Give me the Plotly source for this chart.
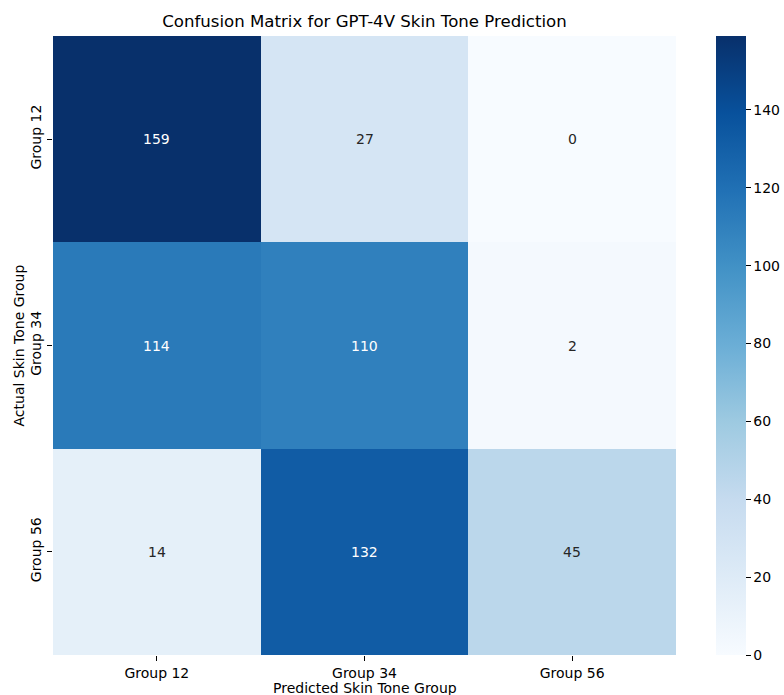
import plotly.graph_objects as go

predicted = ["Group 12", "Group 34", "Group 56"]
actual = ["Group 12", "Group 34", "Group 56"]
counts = [
    [159, 27, 0],
    [114, 110, 2],
    [14, 132, 45],
]
cbar_ticks = [0, 20, 40, 60, 80, 100, 120, 140]

blues = [
    [0.0, "#f7fbff"], [0.125, "#deebf7"], [0.25, "#c6dbef"], [0.375, "#9ecae1"],
    [0.5, "#6baed6"], [0.625, "#4292c6"], [0.75, "#2171b5"], [0.875, "#08519c"],
    [1.0, "#08306b"],
]

zmin = min(min(r) for r in counts)
zmax = max(max(r) for r in counts)

font = "DejaVu Sans"
W, H = 784, 695
L, R, T, B = 53, 676, 36, 655

fig = go.Figure()
fig.add_trace(go.Heatmap(
    z=counts, x=predicted, y=actual,
    colorscale=blues, zmin=zmin, zmax=zmax,
    hoverongaps=False,
    colorbar=dict(
        thickness=30, len=1, lenmode="fraction", y=0.5, yanchor="middle",
        x=(716 - L) / (R - L), xanchor="left", xpad=0, ypad=0,
        outlinewidth=0, tickvals=cbar_ticks, ticks="outside", ticklen=5,
        tickcolor="black", tickfont=dict(family=font, size=14, color="black"),
    ),
))

for i, row in enumerate(counts):
    for j, v in enumerate(row):
        frac = (v - zmin) / (zmax - zmin)
        fig.add_annotation(
            x=predicted[j], y=actual[i], text=str(v), showarrow=False,
            font=dict(family=font, size=14, color="white" if frac > 0.5 else "#262626"),
        )

fig.add_annotation(
    text="Predicted Skin Tone Group", xref="paper", yref="paper",
    x=0.5, y=(B - 688) / (B - T), xanchor="center", yanchor="middle",
    showarrow=False, font=dict(family=font, size=14, color="black"),
)
fig.add_annotation(
    text="Actual Skin Tone Group", xref="paper", yref="paper",
    x=(18 - L) / (R - L), y=0.5, xanchor="center", yanchor="middle",
    textangle=-90, showarrow=False, font=dict(family=font, size=14, color="black"),
)

fig.update_layout(
    width=W, height=H,
    margin=dict(l=L, r=W - R, t=T, b=H - B, autoexpand=False),
    paper_bgcolor="white", plot_bgcolor="white",
    title=dict(
        text="Confusion Matrix for GPT-4V Skin Tone Prediction",
        x=(L + R) / 2 / W, xanchor="center", y=1 - 21 / H, yanchor="middle",
        font=dict(family=font, size=16.6, color="black"),
    ),
    xaxis=dict(
        showgrid=False, zeroline=False, showline=False, ticks="outside",
        ticklen=5, tickcolor="black",
        tickfont=dict(family=font, size=14, color="black"),
    ),
    yaxis=dict(
        showgrid=False, zeroline=False, showline=False, ticks="outside",
        ticklen=5, tickcolor="black", autorange="reversed", tickangle=-90,
        tickfont=dict(family=font, size=14, color="black"),
    ),
)

fig.write_html(
    "out.html",
    config={"displayModeBar": False},
    post_script="document.body.style.margin='0';document.body.style.overflow='hidden';",
)
